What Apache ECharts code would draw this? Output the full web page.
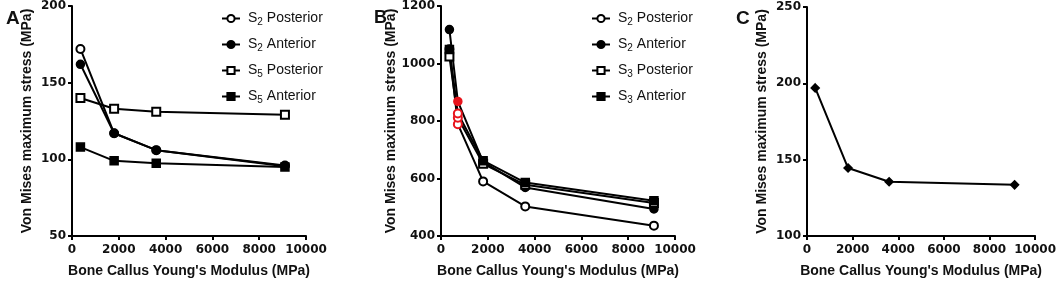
<!DOCTYPE html>
<html>
<head>
<meta charset="utf-8">
<script src="https://cdn.jsdelivr.net/npm/echarts@6/dist/echarts.min.js"></script>
<style>
  html, body { margin: 0; padding: 0; background: #fff; }
  #chart { width: 1059px; height: 283px; }
</style>
</head>
<body>
<div id="chart"></div>
<script>
// modulus values (MPa)
var modulusA = [360, 1800, 3600, 9100];
var modulusB = [360, 720, 1800, 3600, 9100];
var modulusC = [360, 1800, 3600, 9100];

// panel A
var aS2Post = [172, 117, 106, 96];
var aS2Ant = [162, 117, 106, 95.5];
var aS5Post = [140, 133, 131, 129];
var aS5Ant = [108, 99, 97.5, 95];

// panel B
var bS2Post = [1050, 789, 590, 503, 436];
var bS2Ant = [1118, 868, 658, 569, 494];
var bS3Post = [1024, 811, 651, 578, 515];
var bS3Ant = [1049, 826, 662, 586, 523];

// panel C
var cStress = [197, 144.5, 135.5, 133.5];

var FONT = 'Liberation Sans';
var TICKFONT = 'DejaVu Sans';

function pairs(xs, ys) {
  return ys.map(function (v, i) { return [xs[i], v]; });
}
// the 720 MPa point is drawn red
function withRed(xs, ys, sym) {
  var d = pairs(xs, ys);
  d[1] = { value: d[1], symbol: sym, itemStyle: { color: '#e8141c', borderColor: '#e8141c' }, z: 5 };
  return d;
}

var labels = {
  'a1': ['S', '2', ' Posterior'], 'a2': ['S', '2', ' Anterior'],
  'a3': ['S', '5', ' Posterior'], 'a4': ['S', '5', ' Anterior'],
  'b1': ['S', '2', ' Posterior'], 'b2': ['S', '2', ' Anterior'],
  'b3': ['S', '3', ' Posterior'], 'b4': ['S', '3', ' Anterior']
};

function plain(v) { return String(v); }

function xAxisCfg(gi) {
  return {
    gridIndex: gi, type: 'value', min: 0, max: 10000, interval: 2000,
    name: "Bone Callus Young's Modulus (MPa)", nameLocation: 'middle', nameGap: 28,
    nameTextStyle: { fontFamily: FONT, fontWeight: 'bold', fontSize: 14, color: '#111' },
    axisLine: { lineStyle: { color: '#000', width: 2 } },
    axisTick: { show: true, length: 4, lineStyle: { color: '#000', width: 2 } },
    axisLabel: { margin: 8, formatter: plain, fontFamily: TICKFONT, fontWeight: 'bold', fontSize: 12, color: '#111' },
    splitLine: { show: false }
  };
}
function yAxisCfg(gi, min, max, step) {
  return {
    gridIndex: gi, type: 'value', min: min, max: max, interval: step,
    name: 'Von Mises maximum stress (MPa)', nameLocation: 'middle', nameGap: 38,
    nameTextStyle: { fontFamily: FONT, fontWeight: 'bold', fontSize: 14, color: '#111' },
    axisLine: { show: true, lineStyle: { color: '#000', width: 2 } },
    axisTick: { show: true, length: 4, lineStyle: { color: '#000', width: 2 } },
    axisLabel: { margin: 6, formatter: plain, fontFamily: TICKFONT, fontWeight: 'bold', fontSize: 12, color: '#111' },
    splitLine: { show: false }
  };
}
function line(name, gi, data, symbol, size) {
  return {
    name: name, type: 'line', xAxisIndex: gi, yAxisIndex: gi,
    data: data, symbol: symbol, symbolSize: size, showSymbol: true,
    lineStyle: { color: '#000', width: 2 },
    itemStyle: { color: '#000', borderColor: '#000', borderWidth: 1.5 },
    z: 2
  };
}
function legendCfg(left, names) {
  return {
    orient: 'vertical', left: left, top: 5, itemWidth: 18, itemHeight: 9, itemGap: 9,
    data: names,
    formatter: function (n) { var p = labels[n]; return '{n|' + p[0] + '}{s|' + p[1] + '}{n|' + p[2] + '}'; },
    textStyle: {
      padding: [0, 0, 0, 3],
      rich: {
        n: { fontFamily: FONT, fontSize: 14, color: '#111', lineHeight: 16 },
        s: { fontFamily: FONT, fontSize: 10, color: '#111', padding: [7, 0, 0, 0], lineHeight: 16 }
      }
    }
  };
}

var chart = echarts.init(document.getElementById('chart'));
chart.setOption({
  animation: false,
  backgroundColor: '#fff',
  title: [
    { text: 'A', left: 1, top: 4, textStyle: { fontFamily: FONT, fontWeight: 'bold', fontSize: 19, color: '#111' } },
    { text: 'B', left: 369, top: 4, textStyle: { fontFamily: FONT, fontWeight: 'bold', fontSize: 18, color: '#111' } },
    { text: 'C', left: 731, top: 4, textStyle: { fontFamily: FONT, fontWeight: 'bold', fontSize: 19, color: '#111' } }
  ],
  grid: [
    { left: 72, top: 6, width: 234, height: 233 },
    { left: 441, top: 6, width: 234, height: 233 },
    { left: 807, top: 7, width: 233, height: 232 }
  ],
  legend: [
    legendCfg(216, ['a1', 'a2', 'a3', 'a4']),
    legendCfg(586, ['b1', 'b2', 'b3', 'b4'])
  ],
  xAxis: [xAxisCfg(0), xAxisCfg(1), xAxisCfg(2)],
  yAxis: [yAxisCfg(0, 50, 200, 50), yAxisCfg(1, 400, 1200, 200), yAxisCfg(2, 100, 250, 50)],
  series: [
    line('a1', 0, pairs(modulusA, aS2Post), 'emptyCircle', 8),
    line('a2', 0, pairs(modulusA, aS2Ant), 'circle', 8),
    line('a3', 0, pairs(modulusA, aS5Post), 'emptyRect', 8),
    line('a4', 0, pairs(modulusA, aS5Ant), 'rect', 8),
    line('b1', 1, withRed(modulusB, bS2Post, 'emptyCircle'), 'emptyCircle', 8),
    line('b2', 1, withRed(modulusB, bS2Ant, 'circle'), 'circle', 8),
    line('b3', 1, withRed(modulusB, bS3Post, 'emptyCircle'), 'emptyRect', 8),
    line('b4', 1, withRed(modulusB, bS3Ant, 'emptyCircle'), 'rect', 8),
    line('c', 2, pairs(modulusC, cStress), 'diamond', 8)
  ]
});
</script>
</body>
</html>
